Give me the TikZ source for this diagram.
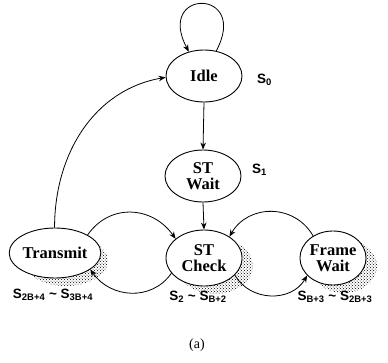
\documentclass[tikz,border=0pt]{standalone}
\usepackage{fontspec}
\setmainfont{Liberation Serif}
\newfontfamily\labfont{Liberation Sans}
\usetikzlibrary{shapes.geometric,arrows.meta,patterns}
\begin{document}
\begin{tikzpicture}[x=1pt,y=1pt,
  stnode/.style={ellipse,draw,line width=0.9pt,fill=white,inner sep=0pt,
    font=\fontsize{16.5}{15.5}\selectfont\bfseries,align=center},
  shadowfill/.style={pattern=crosshatch dots,pattern color=black},
  conn/.style={line width=0.8pt,-{Stealth[length=7pt,width=5.5pt]}},
  slab/.style={font=\labfont\fontsize{13.5}{13.5}\selectfont\bfseries,inner sep=0pt}]
\useasboundingbox (0,0) rectangle (388,362);
% shadows
\fill[shadowfill] (215,96) ellipse (38pt and 28pt);
\fill[shadowfill] (344,96) ellipse (33pt and 27pt);
\fill[shadowfill] (66,101) ellipse (42pt and 25pt);
% states
\node[stnode,minimum width=76pt,minimum height=52pt] (idle) at (204,286) {Idle};
\node[stnode,minimum width=76pt,minimum height=52pt] (stwait) at (203,186) {ST\\Wait};
\node[stnode,minimum width=76pt,minimum height=56pt] (stcheck) at (204,104) {ST\\Check};
\node[stnode,minimum width=66pt,minimum height=54pt] (fwait) at (333,104) {Frame\\Wait};
\node[stnode,minimum width=84pt,minimum height=50pt] (transmit) at (55,109) {Transmit};
% connectors
\draw[conn] (idle.64) .. controls (250,374) and (155,374) .. (idle.122);
\draw[conn] (idle.south) -- (stwait.north);
\draw[conn] (stwait.south) -- (stcheck.north);
\draw[conn] (transmit.91) to[out=90,in=190] (idle.182);
\draw[conn] (transmit.29) to[out=55,in=125,looseness=1.15] (stcheck.146);
\draw[conn] (stcheck.205) to[out=235,in=305,looseness=1.1] (transmit.335);
\draw[conn] (fwait.132) to[out=120,in=60,looseness=1.15] (stcheck.40);
\draw[conn] (stcheck.331) to[out=300,in=240,looseness=1.1] (fwait.214);
% labels
\node[slab,anchor=west] (l0) at (257,282) {S\textsubscript{0}};
\node[slab,anchor=west] (l1) at (252,192) {S\textsubscript{1}};
\node[slab] (l2) at (53,67) {S\textsubscript{2B+4} \textasciitilde\ S\textsubscript{3B+4}};
\node[slab] (l3) at (198,65) {S\textsubscript{2} \textasciitilde\ S\textsubscript{B+2}};
\node[slab] (l4) at (335,65) {S\textsubscript{B+3} \textasciitilde\ S\textsubscript{2B+3}};
\node[font=\fontsize{14}{14}\selectfont] (cap) at (197,17) {(a)};
\end{tikzpicture}
\end{document}
